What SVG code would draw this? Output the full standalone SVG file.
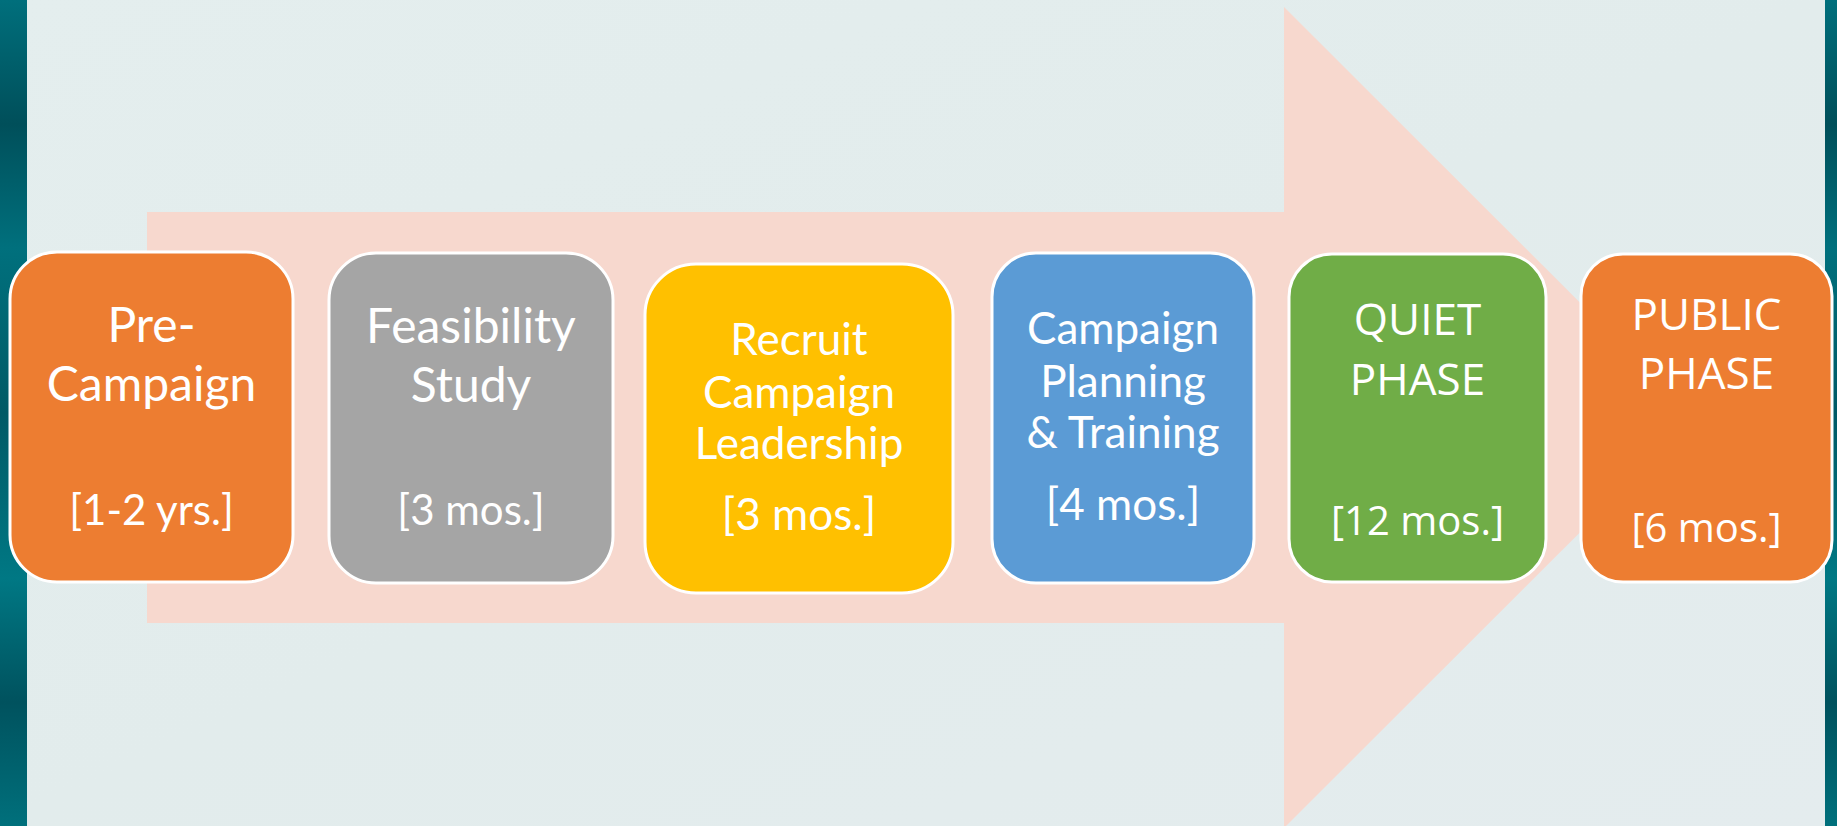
<svg xmlns="http://www.w3.org/2000/svg" width="1837" height="826" viewBox="0 0 1837 826">
  <style>
    .box { stroke: #ffffff; stroke-width: 3; }
    .lbl { font-family: Lato, "Open Sans", "Liberation Sans", sans-serif; fill: #ffffff; text-anchor: middle; }
    .big { font-size: 48px; }
    .mid { font-size: 44px; }
    .dur { font-size: 42px; }
    .caps { font-family: "Open Sans", "DejaVu Sans", sans-serif; font-size: 44px; fill: #ffffff; text-anchor: middle; }
    .capsdur { font-size: 40px; }
  </style>
  <defs>
    <linearGradient id="bg" x1="0" y1="0" x2="1" y2="1">
      <stop offset="0" stop-color="#e4eeee"/>
      <stop offset="0.5" stop-color="#e2ecec"/>
      <stop offset="1" stop-color="#e4ecee"/>
    </linearGradient>
    <linearGradient id="teal" x1="0" y1="0" x2="0" y2="1">
      <stop offset="0" stop-color="#006f7c"/>
      <stop offset="0.15" stop-color="#004f5a"/>
      <stop offset="0.3" stop-color="#00707d"/>
      <stop offset="0.5" stop-color="#005a66"/>
      <stop offset="0.7" stop-color="#007884"/>
      <stop offset="0.85" stop-color="#00525e"/>
      <stop offset="1" stop-color="#00707c"/>
    </linearGradient>
  </defs>

  <!-- backdrop -->
  <rect x="0" y="0" width="1837" height="826" fill="url(#bg)"/>
  <rect x="0" y="0" width="27" height="826" fill="url(#teal)"/>
  <rect x="1825" y="0" width="12" height="826" fill="url(#teal)"/>

  <!-- big process arrow behind the steps -->
  <g id="connectors">
    <polygon points="147,212 1284,212 1284,7 1695,417.5 1284,828 1284,623 147,623" fill="#f7d8ce"/>
  </g>

  <g id="step-pre-campaign">
    <rect class="box" x="10" y="252" width="283" height="330" rx="47" fill="#ed7d31"/>
    <text class="lbl big" x="151.5" y="342">Pre-</text>
    <text class="lbl big" x="151.5" y="401">Campaign</text>
    <text class="lbl dur" x="151.5" y="525">[1-2 yrs.]</text>
  </g>

  <g id="step-feasibility">
    <rect class="box" x="329" y="253" width="284" height="330" rx="47" fill="#a5a5a5"/>
    <text class="lbl big" x="471" y="343">Feasibility</text>
    <text class="lbl big" x="471" y="402">Study</text>
    <text class="lbl dur" x="471" y="525">[3 mos.]</text>
  </g>

  <g id="step-recruit">
    <rect class="box" x="645" y="264" width="308" height="329" rx="51" fill="#ffc000"/>
    <text class="lbl mid" x="799" y="355">Recruit</text>
    <text class="lbl mid" x="799" y="408">Campaign</text>
    <text class="lbl mid" x="799" y="459">Leadership</text>
    <text class="lbl mid" x="799" y="530">[3 mos.]</text>
  </g>

  <g id="step-planning">
    <rect class="box" x="992" y="253" width="262" height="330" rx="44" fill="#5b9bd5"/>
    <text class="lbl mid" x="1123" y="344">Campaign</text>
    <text class="lbl mid" x="1123" y="397">Planning</text>
    <text class="lbl mid" x="1123" y="448">&amp; Training</text>
    <text class="lbl mid" x="1123" y="520">[4 mos.]</text>
  </g>

  <g id="step-quiet">
    <rect class="box" x="1289" y="254" width="257" height="328" rx="43" fill="#70ad47"/>
    <text class="caps" x="1417.5" y="335">QUIET</text>
    <text class="caps" x="1417.5" y="395">PHASE</text>
    <text class="caps capsdur" x="1417.5" y="535">[12 mos.]</text>
  </g>

  <g id="step-public">
    <rect class="box" x="1581" y="254" width="251" height="328" rx="42" fill="#ed7d31"/>
    <text class="caps" x="1706.5" y="330">PUBLIC</text>
    <text class="caps" x="1706.5" y="389">PHASE</text>
    <text class="caps capsdur" x="1706.5" y="542">[6 mos.]</text>
  </g>
</svg>
